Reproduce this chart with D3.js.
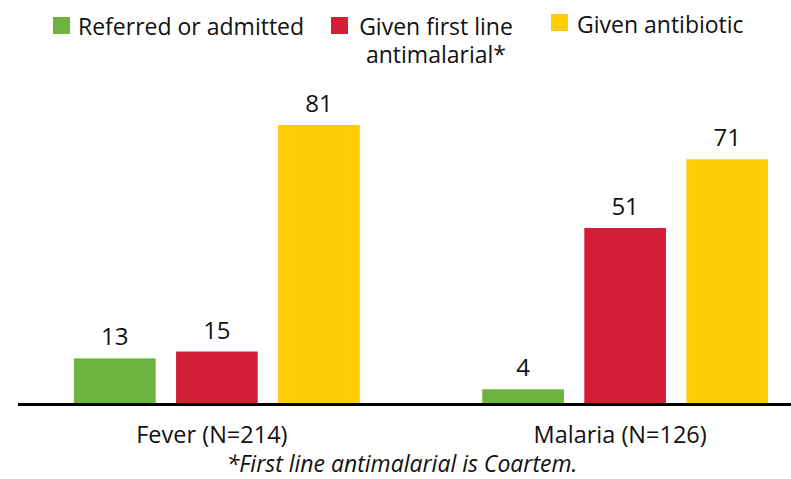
<!DOCTYPE html>
<html>
<head>
<meta charset="utf-8">
<script src="https://cdn.jsdelivr.net/npm/d3@7"></script>
<style>
  body { margin: 0; background: #fff; }
  svg { display: block; font-family: "Open Sans", "Noto Sans", sans-serif; }
</style>
</head>
<body>
<svg id="chart" width="791" height="479"></svg>
<script>
// chart data
const groups = ["Fever (N=214)", "Malaria (N=126)"];
const seriesNames = ["Referred or admitted", "Given first line antimalarial*", "Given antibiotic"];
const referred = [13, 4];
const firstLine = [15, 51];
const antibiotic = [81, 71];
const colors = ["#6db33f", "#d41f38", "#ffcc05"];

const W = 791, H = 479;
const BASE_Y = 403;

const svg = d3.select("#chart");

const rows = groups.map((g, i) => ({
    group: g,
    values: [referred[i], firstLine[i], antibiotic[i]]
}));

const x0 = d3.scaleBand()
    .domain(groups)
    .range([74, 768])
    .paddingInner(0.3)
    .paddingOuter(0);

const x1 = d3.scaleBand()
    .domain(seriesNames)
    .range([0, x0.bandwidth()])
    .paddingInner(0.2);

const y = d3.scaleLinear()
    .domain([0, 81])
    .range([BASE_Y, 125]);

// bars
const gGroups = svg.append("g").selectAll("g")
    .data(rows)
    .enter()
    .append("g")
    .attr("transform", d => `translate(${x0(d.group)},0)`);

gGroups.selectAll("rect")
    .data(d => d.values.map((v, i) => ({ name: seriesNames[i], value: v, i })))
    .enter()
    .append("rect")
    .attr("x", d => x1(d.name))
    .attr("y", d => y(d.value))
    .attr("width", x1.bandwidth())
    .attr("height", d => BASE_Y - y(d.value))
    .attr("fill", d => colors[d.i]);

// value labels
gGroups.selectAll("text.val")
    .data(d => d.values.map((v, i) => ({ name: seriesNames[i], value: v })))
    .enter()
    .append("text")
    .attr("class", "val")
    .attr("x", d => x1(d.name) + x1.bandwidth() / 2)
    .attr("y", d => y(d.value) - 13)
    .attr("text-anchor", "middle")
    .attr("font-size", 24)
    .attr("fill", "#111")
    .text(d => d.value);

// baseline
svg.append("line")
    .attr("x1", 18).attr("x2", W)
    .attr("y1", BASE_Y + 1.5).attr("y2", BASE_Y + 1.5)
    .attr("stroke", "#000")
    .attr("stroke-width", 3);

// category labels
const xAxis = svg.append("g")
    .attr("transform", `translate(-5,${BASE_Y})`)
    .call(d3.axisBottom(x0).tickSize(0).tickPadding(0));
xAxis.select(".domain").remove();
xAxis.selectAll("text")
    .attr("y", 40)
    .attr("dy", 0)
    .attr("font-family", "Open Sans, sans-serif")
    .attr("font-size", 23.5)
    .attr("fill", "#111");

// footnote
svg.append("text")
    .attr("x", 402)
    .attr("y", 472)
    .attr("text-anchor", "middle")
    .attr("font-size", 23)
    .attr("font-style", "italic")
    .attr("fill", "#111")
    .text("*First line antimalarial is Coartem.");

// legend
const legend = [
    { sx: 53, sy: 17, tx: 78, anchor: "start", lines: ["Referred or admitted"] },
    { sx: 331, sy: 17, tx: 436, anchor: "middle", lines: ["Given first line", "antimalarial*"] },
    { sx: 551, sy: 14, tx: 577, anchor: "start", lines: ["Given antibiotic"], ty: 33 }
];

legend.forEach((l, i) => {
    svg.append("rect")
        .attr("x", l.sx).attr("y", l.sy)
        .attr("width", 17).attr("height", 17)
        .attr("fill", colors[i]);
    const t = svg.append("text")
        .attr("x", l.tx)
        .attr("y", l.ty || 35)
        .attr("text-anchor", l.anchor)
        .attr("font-size", 23)
        .attr("fill", "#111");
    l.lines.forEach((line, j) => {
        t.append("tspan")
            .attr("x", l.tx)
            .attr("dy", j === 0 ? 0 : 28)
            .text(line);
    });
});
</script>
</body>
</html>
